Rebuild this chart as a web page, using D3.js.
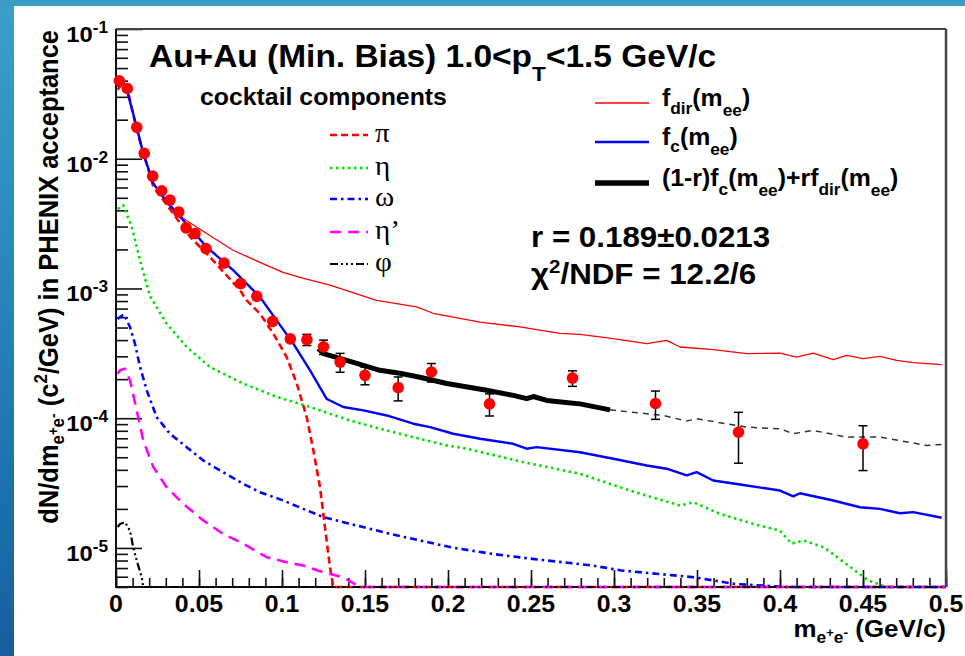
<!DOCTYPE html>
<html lang="en">
<head>
<meta charset="UTF-8">
<title>Au+Au (Min. Bias) dielectron cocktail fit</title>
<script src="https://d3js.org/d3.v7.min.js"></script>
<style>
  html, body { margin: 0; padding: 0; background: #fff; }
  svg { display: block; }
</style>
</head>
<body>
<div id="chart"></div>
<script>
// ---- data: [mass (GeV/c), yield] ----
const piCurve = [[0.001,0.034],[0.004,0.0385],[0.008,0.030],[0.0125,0.0166],[0.0225,0.00607],[0.0345,0.00378],
  [0.0446,0.0025],[0.0566,0.00175],[0.0747,0.00097],[0.0787,0.00081],[0.0867,0.00064],[0.0948,0.000449],
  [0.1028,0.000296],[0.1089,0.000185],[0.1149,0.000102],[0.1189,5.64e-5],[0.1229,2.94e-5],[0.1259,1.44e-5],
  [0.1289,7.1e-6],[0.1309,0],[0.5,0]];
const etaCurve = [[0.001,0.0041],[0.0024,0.00423],[0.0044,0.00438],[0.0095,0.00298],[0.0145,0.00165],[0.0205,0.00087],
  [0.0305,0.000536],[0.0426,0.000354],[0.0566,0.000248],[0.0767,0.000185],[0.0968,0.000146],[0.1169,0.000122],
  [0.141,9.6e-5],[0.159,8.3e-5],[0.1791,7.15e-5],[0.1992,6.17e-5],[0.2113,5.82e-5],[0.245,4.6e-5],[0.2795,3.73e-5],
  [0.3096,2.77e-5],[0.3398,2.12e-5],[0.3478,2.25e-5],[0.3639,1.83e-5],[0.3839,1.53e-5],[0.40,1.36e-5],
  [0.4069,1.08e-5],[0.4143,1.14e-5],[0.4265,1.01e-5],[0.4533,5.6e-6],[0.4643,0],[0.5,0]];
const omegaCurve = [[0.001,0.00058],[0.0024,0.000603],[0.0048,0.000632],[0.0084,0.000505],[0.0114,0.000376],
  [0.0145,0.000248],[0.0185,0.000164],[0.0245,0.000102],[0.0325,7.59e-5],[0.0426,5.98e-5],[0.0526,4.72e-5],
  [0.0627,3.96e-5],[0.0767,3.12e-5],[0.0867,2.69e-5],[0.1008,2.32e-5],[0.1128,2.0e-5],[0.1249,1.73e-5],
  [0.1369,1.58e-5],[0.1655,1.28e-5],[0.2021,1.01e-5],[0.2265,9.0e-6],[0.2508,8.24e-6],[0.2873,7.31e-6],
  [0.3045,6.7e-6],[0.3484,5.94e-6],[0.3728,5.28e-6],[0.4045,0],[0.5,0]];
const etapCurve = [[0.001,0.00022],[0.0024,0.000234],[0.0054,0.000241],[0.0084,0.000196],[0.0125,0.000115],
  [0.0164,6.74e-5],[0.0225,4.2e-5],[0.0305,2.94e-5],[0.0405,2.19e-5],[0.0526,1.63e-5],[0.0646,1.28e-5],
  [0.0767,1.08e-5],[0.0908,8.48e-6],[0.1028,7.76e-6],[0.1128,7.31e-6],[0.1249,6.5e-6],[0.1369,5.94e-6],
  [0.147,0],[0.5,0]];
const phiCurve = [[0.001,1.45e-5],[0.0024,1.53e-5],[0.0054,1.58e-5],[0.0084,1.36e-5],[0.0104,1.01e-5],
  [0.0125,8.0e-6],[0.0155,5.94e-6],[0.0164,0],[0.5,0]];
const fcCurve = [[0.001,0.036],[0.004,0.0404],[0.0066,0.0338],[0.0125,0.0175],[0.0164,0.0110],[0.0225,0.00645],
  [0.0305,0.00465],[0.0405,0.00336],[0.0546,0.00209],[0.0707,0.00138],[0.0867,0.00086],[0.0968,0.000568],
  [0.1068,0.000376],[0.1169,0.000234],[0.1269,0.000141],[0.1289,0.000137],[0.1369,0.000122],[0.149,0.000115],
  [0.1631,0.000105],[0.1791,9.07e-5],[0.1892,8.53e-5],[0.2032,7.59e-5],[0.2193,6.95e-5],[0.2393,6.35e-5],
  [0.2474,5.82e-5],[0.2534,5.98e-5],[0.2795,5.47e-5],[0.2996,4.87e-5],[0.3197,4.32e-5],[0.3317,4.08e-5],
  [0.3438,3.62e-5],[0.3498,3.84e-5],[0.3598,3.31e-5],[0.3799,3.03e-5],[0.40,2.77e-5],[0.408,2.5e-5],
  [0.412,2.64e-5],[0.4321,2.32e-5],[0.4482,2.06e-5],[0.4602,2.0e-5],[0.4723,1.85e-5],[0.4803,1.89e-5],
  [0.4974,1.71e-5]];
const fdirCurve = [[0.001,0.036],[0.004,0.0404],[0.0066,0.0338],[0.0125,0.0175],[0.0164,0.0110],[0.0225,0.00645],
  [0.0305,0.0047],[0.0404,0.00348],[0.0506,0.00286],[0.0705,0.00197],[0.0867,0.00159],[0.1006,0.00133],
  [0.1108,0.00122],[0.1289,0.00106],[0.157,0.000811],[0.1811,0.00072],[0.191,0.000644],[0.2193,0.000551],
  [0.2434,0.000505],[0.2675,0.000451],[0.2795,0.000443],[0.2996,0.00041],[0.3197,0.000376],[0.3317,0.000398],
  [0.3398,0.000354],[0.3598,0.000338],[0.3799,0.000315],[0.40,0.000318],[0.41,0.000296],[0.42,0.000318],
  [0.4321,0.000283],[0.4402,0.000305],[0.4502,0.000288],[0.4602,0.0003],[0.4703,0.000279],[0.4803,0.000268],
  [0.4974,0.000259]];
const fitCurve = [[0.1219,0.000344],[0.1249,0.000315],[0.139,0.000279],[0.159,0.000234],[0.171,0.000222],
  [0.1831,0.000207],[0.1992,0.000185],[0.2233,0.000164],[0.2393,0.00015],[0.2474,0.0001414],[0.2514,0.000147],
  [0.2595,0.000137],[0.2695,0.000133],[0.2795,0.000129],[0.2976,0.000116]];
const fitExtension = [[0.2976,0.000116],[0.3297,0.000105],[0.3438,9.5e-5],[0.3498,9.9e-5],[0.3799,8.53e-5],
  [0.40,8.3e-5],[0.408,7.59e-5],[0.42,8.05e-5],[0.4402,7.15e-5],[0.4602,7.15e-5],[0.4884,6.17e-5],[0.4974,6.28e-5]];

const ptMass  = [0.002,0.0068,0.0125,0.017,0.0221,0.0275,0.0325,0.0378,0.0422,0.0476,0.0542,0.0651,0.0751,
  0.0848,0.0944,0.105,0.115,0.125,0.135,0.15,0.17,0.19,0.225,0.275,0.325,0.375,0.45];
const ptYield = [0.0399,0.0348,0.01746,0.01099,0.00734,0.00565,0.0048,0.00389,0.00293,0.00265,0.00203,0.00157,
  0.00109,0.00087,0.000558,0.000409,0.000403,0.000355,0.000271,0.000214,0.000172,0.000227,0.000129,0.000204,
  0.00013,7.8e-5,6.35e-5];
const ptErr   = [0.0008,0.0007,0.0004,0.00025,0.00015,0.00012,0.0001,0.00008,0.00006,0.00005,0.00004,0.00003,
  0.000025,0.00002,0.000018,0.00002,0.00004,0.000045,0.000045,0.000033,0.000036,0.000037,0.000025,0.000028,
  0.000032,0.000033,0.000024];

const xMajor = [0,0.05,0.1,0.15,0.2,0.25,0.3,0.35,0.4,0.45,0.5];
const xTickLabels = ["0","0.05","0.1","0.15","0.2","0.25","0.3","0.35","0.4","0.45","0.5"];
const yMajor = [1e-5,1e-4,1e-3,1e-2,1e-1];
const yTickExp = ["-5","-4","-3","-2","-1"];

const cocktailNames = ["\u03c0","\u03b7","\u03c9","\u03b7\u2019","\u03c6"];

// ---- layout ----
const W = 965, H = 656;
const plotL = 116, plotR = 946, plotT = 29, plotB = 587;
const yMin = 5e-6, yMax = 0.1;
const SX = 1.08; // slide image is slightly stretched horizontally
const SANS = "'Liberation Sans', Arial, Helvetica, sans-serif";
const SERIF = "'Liberation Serif', 'Times New Roman', serif";

const x = d3.scaleLinear().domain([0, 0.5]).range([plotL, plotR]);
const y = d3.scaleLog().domain([yMin, yMax]).range([plotB, plotT]);

const svg = d3.select("#chart").append("svg")
  .attr("width", W).attr("height", H)
  .attr("viewBox", `0 0 ${W} ${H}`);

const defs = svg.append("defs");
const grad = defs.append("linearGradient").attr("id", "side")
  .attr("x1", 0).attr("y1", 0).attr("x2", 0).attr("y2", 1);
grad.append("stop").attr("offset", "0%").attr("stop-color", "#3c9fc8");
grad.append("stop").attr("offset", "50%").attr("stop-color", "#2582b8");
grad.append("stop").attr("offset", "100%").attr("stop-color", "#165f9c");
defs.append("clipPath").attr("id", "plotClip").append("rect")
  .attr("x", plotL).attr("y", plotT).attr("width", plotR - plotL).attr("height", plotB - plotT + 2);

svg.append("rect").attr("width", W).attr("height", H).attr("fill", "#fff");
svg.append("rect").attr("x", 0).attr("y", 0).attr("width", 14).attr("height", H).attr("fill", "url(#side)");
svg.append("rect").attr("x", 0).attr("y", 0).attr("width", W).attr("height", 6).attr("fill", "#3b9dc6");

// text with sub/superscript parts: [text, size, baselineShift]
function richText(parent, px, py, parts, opts = {}) {
  const tf = opts.rotate
    ? `translate(${px},${py}) rotate(-90) scale(1,${SX})`
    : `translate(${px},${py}) scale(${SX},1)`;
  const t = parent.append("text")
    .attr("transform", tf)
    .attr("text-anchor", opts.anchor || "start")
    .attr("font-family", opts.family || SANS)
    .attr("font-weight", opts.weight || "bold")
    .attr("fill", "#000");
  let cur = 0;
  parts.forEach(([s, size, shift]) => {
    t.append("tspan").attr("font-size", size).attr("dy", shift - cur).text(s);
    cur = shift;
  });
  return t;
}

// ---- axes ----
const yMinor = [];
[1e-6, 1e-5, 1e-4, 1e-3, 1e-2].forEach(d => {
  for (let k = 2; k <= 9; k++) {
    const v = k * d;
    if (v >= yMin * 0.999 && v <= yMax) yMinor.push(v);
  }
});
const xMinor = d3.range(0, 51).map(i => i / 100);

function styleAxis(g) {
  g.select(".domain").remove();
  g.selectAll(".tick line").attr("stroke", "#111").attr("stroke-width", 1.6);
}
svg.append("g").attr("transform", `translate(${plotL},0)`)
  .call(d3.axisLeft(y).tickValues(yMinor).tickSize(-12).tickFormat(""))
  .call(styleAxis);
svg.append("g").attr("transform", `translate(${plotL},0)`)
  .call(d3.axisLeft(y).tickValues(yMajor).tickSize(-26).tickFormat(""))
  .call(styleAxis);
svg.append("g").attr("transform", `translate(0,${plotB})`)
  .call(d3.axisBottom(x).tickValues(xMinor).tickSize(-9).tickFormat(""))
  .call(styleAxis);
svg.append("g").attr("transform", `translate(0,${plotB})`)
  .call(d3.axisBottom(x).tickValues(xMajor).tickSize(-17).tickFormat(""))
  .call(styleAxis);

// frame
svg.append("line").attr("x1", plotL).attr("x2", plotR).attr("y1", plotT).attr("y2", plotT)
  .attr("stroke", "#444").attr("stroke-width", 2);
svg.append("line").attr("x1", plotR).attr("x2", plotR).attr("y1", plotT).attr("y2", plotB)
  .attr("stroke", "#444").attr("stroke-width", 2.5);
svg.append("line").attr("x1", plotL).attr("x2", plotL).attr("y1", plotT).attr("y2", plotB + 1)
  .attr("stroke", "#111").attr("stroke-width", 2);
svg.append("line").attr("x1", plotL - 1).attr("x2", plotR).attr("y1", plotB).attr("y2", plotB)
  .attr("stroke", "#111").attr("stroke-width", 2);

// tick labels
const labels = svg.append("g");
xMajor.forEach((v, i) => {
  richText(labels, x(v), 612, [[xTickLabels[i], 23, 0]], { anchor: "middle" });
});
yMajor.forEach((v, i) => {
  richText(labels, 108, y(v) + 13, [["10", 22, 0], [yTickExp[i], 16, -9]], { anchor: "end" });
});

// axis titles
richText(labels, 946, 637,
  [["m", 24, 0], ["e", 16, 6], ["+", 12, 0], ["e", 16, 6], ["-", 13, 0], [" (GeV/c)", 24, 0]],
  { anchor: "end" });
richText(labels, 58, 30,
  [["dN/dm", 25.5, 0], ["e", 17, 6], ["+", 13, 0], ["e", 17, 6], ["-", 14, 0], [" (c", 25.5, 0], ["2", 17, -10],
   ["/GeV) in PHENIX acceptance", 25.5, 0]],
  { anchor: "end", rotate: true });

// ---- curves ----
const line = d3.line()
  .x(d => x(d[0]))
  .y(d => y(Math.max(d[1], yMin)));

const plot = svg.append("g").attr("clip-path", "url(#plotClip)");

const cocktail = [
  { data: piCurve,    color: "#ff0000", width: 2.6, dash: "7,4" },
  { data: etaCurve,   color: "#00e000", width: 2.6, dash: "2.5,3.5" },
  { data: omegaCurve, color: "#0000ff", width: 2.6, dash: "7,4,2.5,4" },
  { data: etapCurve,  color: "#ff00ff", width: 2.6, dash: "11,7" },
  { data: phiCurve,   color: "#000000", width: 2.2, dash: "8,3,2,3,2,3,2,3" }
];
const curveStyles = [
  { data: fdirCurve, color: "#ff0000", width: 1.3, dash: null },
  { data: fcCurve,   color: "#0000ff", width: 2.4, dash: null }
];

[...cocktail, ...curveStyles].forEach(c => {
  plot.append("path").datum(c.data)
    .attr("d", line)
    .attr("fill", "none")
    .attr("stroke", c.color)
    .attr("stroke-width", c.width)
    .attr("stroke-dasharray", c.dash)
    .attr("stroke-linejoin", "round");
});

plot.append("path").datum(fitExtension)
  .attr("d", line).attr("fill", "none")
  .attr("stroke", "#333").attr("stroke-width", 1.5).attr("stroke-dasharray", "6,5");
plot.append("path").datum(fitCurve)
  .attr("d", line).attr("fill", "none")
  .attr("stroke", "#000").attr("stroke-width", 5).attr("stroke-linejoin", "round");

// ---- data points ----
const pts = svg.append("g");
ptMass.forEach((m, i) => {
  const cx = x(m);
  const yHi = y(ptYield[i] + ptErr[i]);
  const yLo = y(Math.max(ptYield[i] - ptErr[i], yMin));
  pts.append("line").attr("x1", cx).attr("x2", cx).attr("y1", yHi).attr("y2", yLo)
    .attr("stroke", "#000").attr("stroke-width", 1.5);
  [yHi, yLo].forEach(yy => {
    pts.append("line").attr("x1", cx - 4.5).attr("x2", cx + 4.5).attr("y1", yy).attr("y2", yy)
      .attr("stroke", "#000").attr("stroke-width", 1.5);
  });
  pts.append("circle").attr("cx", cx).attr("cy", y(ptYield[i])).attr("r", 5.8).attr("fill", "#ff0000");
});

// ---- texts and legends ----
const txt = svg.append("g");
richText(txt, 149, 67, [["Au+Au (Min. Bias) 1.0<p", 31, 0], ["T", 21, 14], ["<1.5 GeV/c", 31, 0]]);
richText(txt, 200, 105, [["cocktail components", 23, 0]]);

const legY = [135, 168, 199, 232, 264];
cocktail.forEach((c, i) => {
  txt.append("line").attr("x1", 330).attr("x2", 368).attr("y1", legY[i]).attr("y2", legY[i])
    .attr("stroke", c.color).attr("stroke-width", c.width).attr("stroke-dasharray", c.dash);
  richText(txt, 375, legY[i] + 7, [[cocktailNames[i], 27, 0]], { family: SERIF, weight: "normal" });
});

const rLeg = [
  { y: 103, color: "#ff0000", width: 1.5,
    parts: [["f", 23, 0], ["dir", 16, 8], ["(m", 23, 0], ["ee", 16, 10], [")", 23, 0]] },
  { y: 142, color: "#0000ff", width: 2.6,
    parts: [["f", 23, 0], ["c", 16, 7], ["(m", 23, 0], ["ee", 16, 10], [")", 23, 0]] },
  { y: 183, color: "#000000", width: 5.5,
    parts: [["(1-r)f", 23, 0], ["c", 16, 9], ["(m", 23, 0], ["ee", 16, 10], [")+rf", 23, 0], ["dir", 16, 9],
            ["(m", 23, 0], ["ee", 16, 10], [")", 23, 0]] }
];
rLeg.forEach(d => {
  txt.append("line").attr("x1", 595).attr("x2", 649).attr("y1", d.y).attr("y2", d.y)
    .attr("stroke", d.color).attr("stroke-width", d.width);
  richText(txt, 662, d.y + 3, d.parts);
});

richText(txt, 531, 247, [["r = 0.189\u00b10.0213", 29, 0]]);
richText(txt, 531, 284, [["\u03c7", 29, 0], ["2", 19, -11], ["/NDF = 12.2/6", 29, 0]]);
</script>
</body>
</html>
